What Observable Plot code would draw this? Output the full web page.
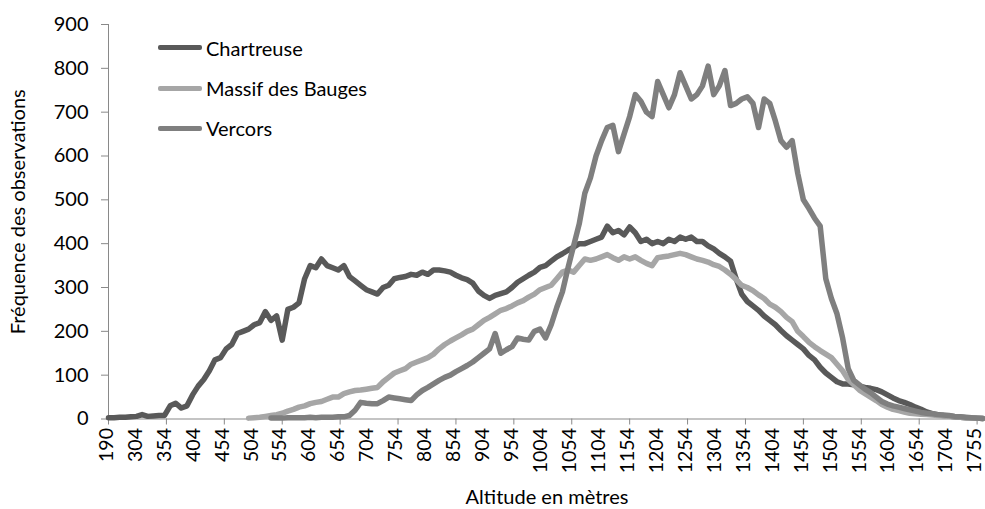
<!DOCTYPE html>
<html>
<head>
<meta charset="utf-8">
<script src="https://cdn.jsdelivr.net/npm/d3@7"></script>
<script src="https://cdn.jsdelivr.net/npm/@observablehq/plot@0.6"></script>
<style>
  html, body { margin: 0; padding: 0; background: #fff; }
  #chart { position: relative; width: 985px; height: 509px; font-family: Lato, sans-serif; }
  #chart svg { display: block; }
  .legend { position: absolute; left: 158px; top: 0; font-size: 20px; color: #000; }
  .item { position: absolute; left: 0; display: flex; align-items: center; white-space: nowrap; height: 24px; }
  .swatch { width: 44px; height: 5px; border-radius: 2px; margin-right: 4px; }
</style>
</head>
<body>
<div id="chart"></div>
<script>
// one value every 10 altitude categories (category index 0, 10, 20, ... 1560)
const step = 10;
// category index of the last labelled altitude (1755)
const lastLabelIndex = 1550;
const categoryCount = 1566;

const chartreuse = [
  3,3,4,4,5,6,10,6,7,8,
  8,30,36,25,30,55,75,90,110,135,
  140,160,170,195,200,205,215,220,245,225,
  235,180,250,255,265,320,350,345,365,350,
  345,340,350,325,315,305,295,290,285,300,
  305,320,323,325,330,328,335,330,340,340,
  338,335,328,322,318,310,292,282,275,282,
  286,290,300,312,320,328,335,346,350,360,
  370,377,385,392,400,400,405,410,415,440,
  425,430,420,438,425,405,410,400,405,400,
  410,405,415,410,415,405,405,395,388,378,
  370,360,320,285,268,258,248,235,225,215,
  202,190,180,170,160,145,135,118,105,95,
  85,80,80,78,75,72,70,67,62,55,
  48,42,38,33,27,22,16,12,10,8,
  7,5,4,3,3,2,1
];

const bauges = [
  null,null,null,null,null,null,null,null,null,null,
  null,null,null,null,null,null,null,null,null,null,
  null,null,null,null,null,2,3,4,6,8,
  10,13,18,22,27,30,35,38,40,45,
  50,50,58,62,65,66,68,70,72,85,
  95,105,110,115,125,130,135,140,148,160,
  170,178,185,192,200,205,215,225,232,240,
  248,252,258,265,270,278,285,295,300,305,
  320,335,340,335,350,365,362,365,370,375,
  368,362,370,365,370,362,355,350,368,370,
  372,375,378,375,370,365,362,358,352,348,
  340,330,318,305,300,293,283,275,262,255,
  245,232,222,200,188,175,165,156,148,140,
  125,110,90,78,66,58,50,42,33,27,
  22,19,16,13,12,11,10,9,8,7,
  6,5,4,3,3,2,1
];

const vercors = [
  null,null,null,null,null,null,null,null,null,null,
  null,null,null,null,null,null,null,null,null,null,
  null,null,null,null,null,null,null,null,null,2,
  2,2,3,3,3,3,4,3,4,4,
  4,5,5,8,20,38,36,35,35,42,
  50,48,46,44,42,55,65,72,80,88,
  95,100,108,115,122,130,140,150,160,195,
  150,158,165,185,182,180,200,205,185,215,
  255,290,345,395,445,515,550,600,635,665,
  670,610,650,690,740,725,700,690,770,740,
  710,740,790,760,730,740,760,805,740,760,
  795,715,720,730,735,720,665,730,720,680,
  635,620,635,560,500,480,458,440,320,275,
  240,185,115,88,78,68,60,50,40,34,
  30,27,24,21,18,15,13,12,10,9,
  8,6,5,4,3,2,1
];

const altitudeLabels = ["190","304","354","404","454","504","554","604","654","704","754","804","854","904","954",
  "1004","1054","1104","1154","1204","1254","1304","1354","1404","1454","1504","1554","1604","1654","1704","1755"];
const yTicks = [0,100,200,300,400,500,600,700,800,900];
const seriesNames = ["Chartreuse","Massif des Bauges","Vercors"];
const seriesColors = ["#595959","#a6a6a6","#7f7f7f"];
const xTitle = "Altitude en mètres";
const yTitle = "Fréquence des observations";

const series = [chartreuse, bauges, vercors];
const rows = series.map((vals, s) => vals.map((v, k) => ({i: k * step, v, name: seriesNames[s]})));
const labelEvery = lastLabelIndex / (altitudeLabels.length - 1);
const labelTicks = altitudeLabels.map((_, k) => k * labelEvery);
const markTicks = labelTicks.filter((_, k) => k % 2 === 0);
const axisColor = "#898989";
const fs = 20;

const plot = Plot.plot({
  width: 985,
  height: 509,
  marginTop: 24,
  marginBottom: 90.5,
  marginLeft: 108,
  marginRight: 0,
  style: {fontFamily: "Lato, sans-serif", fontSize: fs + "px", color: "#000", background: "#fff", overflow: "visible"},
  x: {domain: [0, categoryCount - 1]},
  y: {domain: [0, 900]},
  marks: [
    Plot.axisY({ticks: yTicks, tickSize: 7, tickPadding: 13, tickFormat: d => String(d), stroke: axisColor, fill: "#000", label: null}),
    Plot.axisX({ticks: markTicks, tickSize: 6, tickFormat: () => "", stroke: axisColor, label: null}),
    Plot.axisX({ticks: labelTicks, tickSize: 0, tickPadding: 9, tickRotate: -90, dx: -2, fontSize: 19.5, tickFormat: i => altitudeLabels[Math.round(i / labelEvery)], fill: "#000", label: null}),
    Plot.ruleX([0], {stroke: axisColor}),
    Plot.ruleY([0], {stroke: axisColor}),
    ...rows.map((r, s) => Plot.line(r, {x: "i", y: "v", stroke: seriesColors[s], strokeWidth: 5.5, strokeLinejoin: "round", strokeLinecap: "round"})),
    Plot.text([xTitle], {text: d => d, frameAnchor: "bottom", lineAnchor: "middle", textAnchor: "middle", dy: 78.5, fontSize: fs, fill: "#000"}),
    Plot.text([yTitle], {text: d => d, frameAnchor: "left", lineAnchor: "middle", textAnchor: "middle", rotate: -90, dx: -90, dy: -10, fontSize: fs, fill: "#000"})
  ]
});

const chart = document.getElementById("chart");
chart.appendChild(plot);

const legend = document.createElement("div");
legend.className = "legend";
const legendTops = [35.5, 76, 116];
seriesNames.forEach((name, s) => {
  const item = document.createElement("div");
  item.className = "item";
  item.style.top = legendTops[s] + "px";
  const sw = document.createElement("div");
  sw.className = "swatch";
  sw.style.background = seriesColors[s];
  const label = document.createElement("span");
  label.textContent = name;
  item.appendChild(sw);
  item.appendChild(label);
  legend.appendChild(item);
});
chart.appendChild(legend);
</script>
</body>
</html>
